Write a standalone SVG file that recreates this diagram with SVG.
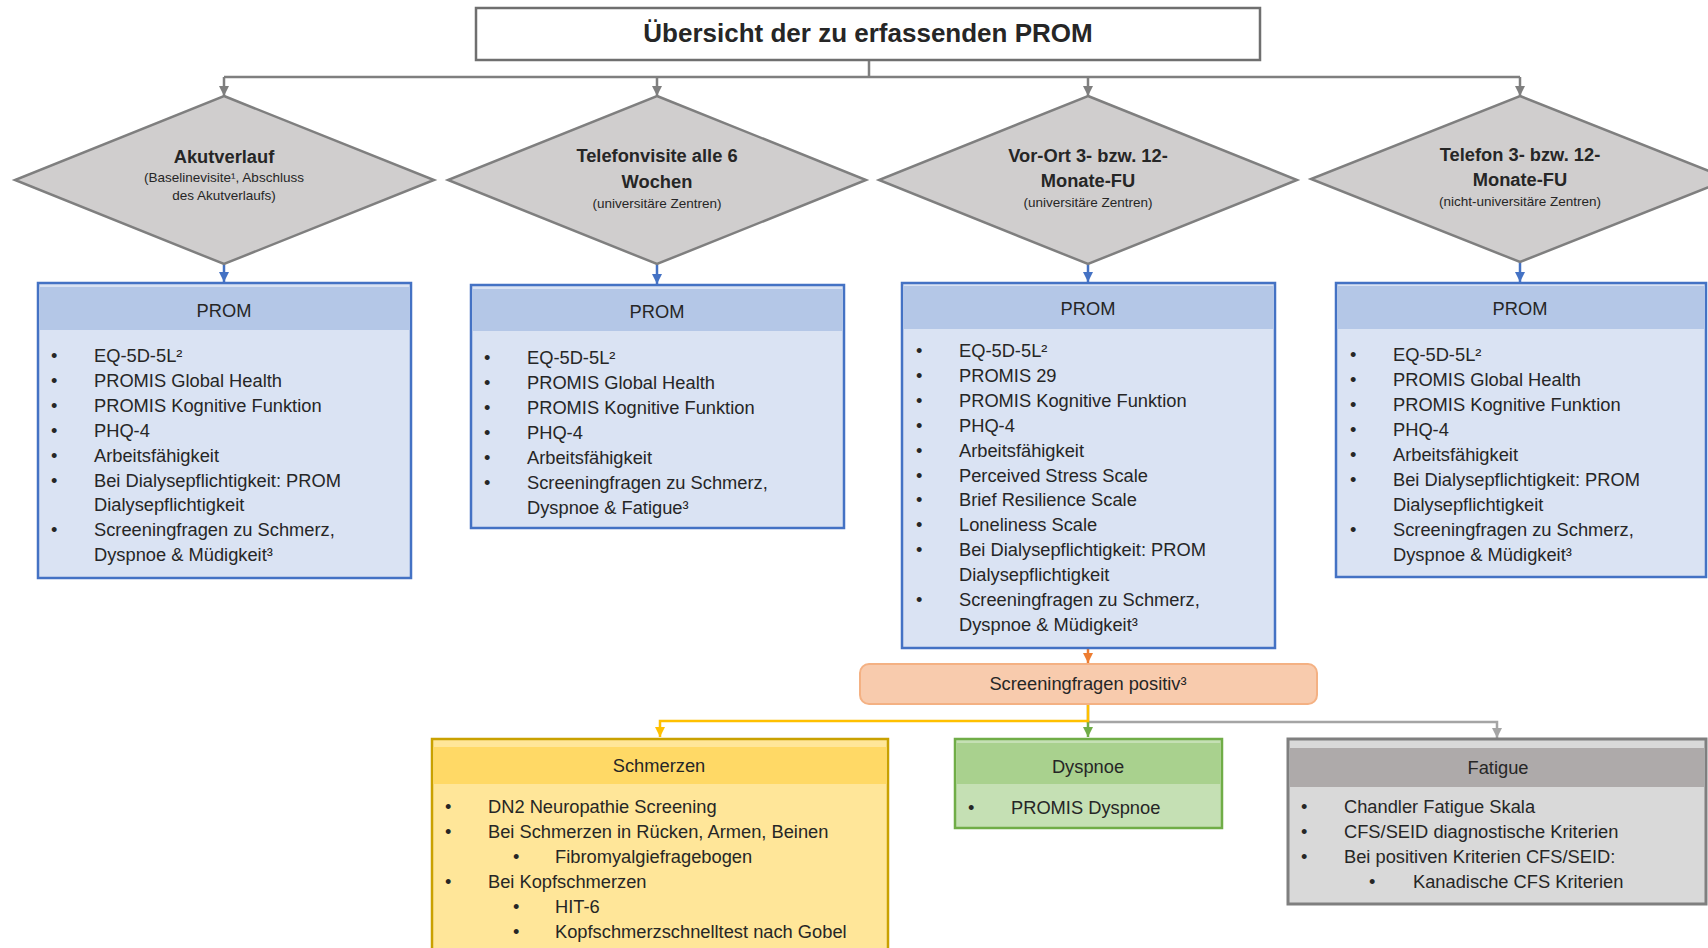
<svg xmlns="http://www.w3.org/2000/svg" width="1708" height="948" viewBox="0 0 1708 948">
<style>
text{font-family:"Liberation Sans",Arial,sans-serif;fill:#262626}
.t{font-size:18.3px}
.c{text-anchor:middle}
.b{font-weight:bold}
.s{font-size:13.5px}
.dia{fill:#d0cece;stroke:#7f7f7f;stroke-width:2.5}
.bx{fill:#dae3f3;stroke:#4472c4;stroke-width:2.5}
.bh{fill:#b4c7e7}
.conn{fill:none;stroke-width:2.5}
</style>
<defs>
<marker id="mg" markerUnits="userSpaceOnUse" markerWidth="11" markerHeight="10" refX="10" refY="5" orient="auto"><path d="M0,0 L10,5 L0,10 Z" fill="#7f7f7f"/></marker>
<marker id="mb" markerUnits="userSpaceOnUse" markerWidth="11" markerHeight="10" refX="10" refY="5" orient="auto"><path d="M0,0 L10,5 L0,10 Z" fill="#4472c4"/></marker>
<marker id="mo" markerUnits="userSpaceOnUse" markerWidth="11" markerHeight="10" refX="10" refY="5" orient="auto"><path d="M0,0 L10,5 L0,10 Z" fill="#ed7d31"/></marker>
<marker id="my" markerUnits="userSpaceOnUse" markerWidth="11" markerHeight="10" refX="10" refY="5" orient="auto"><path d="M0,0 L10,5 L0,10 Z" fill="#ffc000"/></marker>
<marker id="mgr" markerUnits="userSpaceOnUse" markerWidth="11" markerHeight="10" refX="10" refY="5" orient="auto"><path d="M0,0 L10,5 L0,10 Z" fill="#70ad47"/></marker>
<marker id="ml" markerUnits="userSpaceOnUse" markerWidth="11" markerHeight="10" refX="10" refY="5" orient="auto"><path d="M0,0 L10,5 L0,10 Z" fill="#a5a5a5"/></marker>
</defs>
<rect width="1708" height="948" fill="#ffffff"/>

<g id="connectors">
<path class="conn" stroke="#7f7f7f" d="M869,60 V77 M224,77 H1520"/>
<path class="conn" stroke="#7f7f7f" marker-end="url(#mg)" d="M224,77 V96"/>
<path class="conn" stroke="#7f7f7f" marker-end="url(#mg)" d="M657,77 V96"/>
<path class="conn" stroke="#7f7f7f" marker-end="url(#mg)" d="M1088,77 V96"/>
<path class="conn" stroke="#7f7f7f" marker-end="url(#mg)" d="M1520,77 V96"/>
<path class="conn" stroke="#4472c4" marker-end="url(#mb)" d="M224,264 V282"/>
<path class="conn" stroke="#4472c4" marker-end="url(#mb)" d="M657,264 V284"/>
<path class="conn" stroke="#4472c4" marker-end="url(#mb)" d="M1088,264 V282"/>
<path class="conn" stroke="#4472c4" marker-end="url(#mb)" d="M1520,262 V282"/>
<path class="conn" stroke="#ed7d31" marker-end="url(#mo)" d="M1088,648 V663"/>
<path class="conn" stroke="#a5a5a5" marker-end="url(#ml)" d="M1088,704 V722 H1497 V738"/>
<path class="conn" stroke="#70ad47" marker-end="url(#mgr)" d="M1088,721 V737"/>
<path class="conn" stroke="#ffc000" marker-end="url(#my)" d="M1088,704 V721 H660 V737"/>
</g>

<g id="title">
<rect x="476" y="8" width="784" height="52" fill="#ffffff" stroke="#6f6f6f" stroke-width="2.5"/>
<text class="c b" x="868" y="42" font-size="26">Übersicht der zu erfassenden PROM</text>
</g>

<g id="d1">
<polygon class="dia" points="224,96 434,180 224,264 15,180"/>
<text class="c b t" x="224" y="163">Akutverlauf</text>
<text class="c s" x="224" y="182">(Baselinevisite¹, Abschluss</text>
<text class="c s" x="224" y="200">des Akutverlaufs)</text>
</g>
<g id="d2">
<polygon class="dia" points="657,96 866,180 657,264 448,180"/>
<text class="c b t" x="657" y="162">Telefonvisite alle 6</text>
<text class="c b t" x="657" y="188">Wochen</text>
<text class="c s" x="657" y="208">(universitäre Zentren)</text>
</g>
<g id="d3">
<polygon class="dia" points="1088,96 1297,180 1088,264 879,180"/>
<text class="c b t" x="1088" y="162">Vor-Ort 3- bzw. 12-</text>
<text class="c b t" x="1088" y="187">Monate-FU</text>
<text class="c s" x="1088" y="207">(universitäre Zentren)</text>
</g>
<g id="d4">
<polygon class="dia" points="1520,96 1729,179 1520,262 1311,179"/>
<text class="c b t" x="1520" y="161">Telefon 3- bzw. 12-</text>
<text class="c b t" x="1520" y="186">Monate-FU</text>
<text class="c s" x="1520" y="206">(nicht-universitäre Zentren)</text>
</g>

<g id="p1">
<rect class="bx" x="38" y="283" width="373" height="295"/>
<rect class="bh" x="39.5" y="287" width="370" height="43"/>
<text class="c t" x="224" y="317">PROM</text>
<g class="t">
<text x="51" y="362">•</text><text x="94" y="362">EQ-5D-5L²</text>
<text x="51" y="387">•</text><text x="94" y="387">PROMIS Global Health</text>
<text x="51" y="412">•</text><text x="94" y="412">PROMIS Kognitive Funktion</text>
<text x="51" y="437">•</text><text x="94" y="437">PHQ-4</text>
<text x="51" y="462">•</text><text x="94" y="462">Arbeitsfähigkeit</text>
<text x="51" y="487">•</text><text x="94" y="487">Bei Dialysepflichtigkeit: PROM</text>
<text x="94" y="511">Dialysepflichtigkeit</text>
<text x="51" y="536">•</text><text x="94" y="536">Screeningfragen zu Schmerz,</text>
<text x="94" y="561">Dyspnoe &amp; Müdigkeit³</text>
</g>
</g>

<g id="p2">
<rect class="bx" x="471" y="285" width="373" height="243"/>
<rect class="bh" x="472.5" y="289" width="370" height="42"/>
<text class="c t" x="657" y="318">PROM</text>
<g class="t">
<text x="484" y="364">•</text><text x="527" y="364">EQ-5D-5L²</text>
<text x="484" y="389">•</text><text x="527" y="389">PROMIS Global Health</text>
<text x="484" y="414">•</text><text x="527" y="414">PROMIS Kognitive Funktion</text>
<text x="484" y="439">•</text><text x="527" y="439">PHQ-4</text>
<text x="484" y="464">•</text><text x="527" y="464">Arbeitsfähigkeit</text>
<text x="484" y="489">•</text><text x="527" y="489">Screeningfragen zu Schmerz,</text>
<text x="527" y="514">Dyspnoe &amp; Fatigue³</text>
</g>
</g>

<g id="p3">
<rect class="bx" x="902" y="283" width="373" height="365"/>
<rect class="bh" x="903.5" y="286" width="370" height="43"/>
<text class="c t" x="1088" y="315">PROM</text>
<g class="t">
<text x="916" y="357">•</text><text x="959" y="357">EQ-5D-5L²</text>
<text x="916" y="382">•</text><text x="959" y="382">PROMIS 29</text>
<text x="916" y="407">•</text><text x="959" y="407">PROMIS Kognitive Funktion</text>
<text x="916" y="432">•</text><text x="959" y="432">PHQ-4</text>
<text x="916" y="457">•</text><text x="959" y="457">Arbeitsfähigkeit</text>
<text x="916" y="482">•</text><text x="959" y="482">Perceived Stress Scale</text>
<text x="916" y="506">•</text><text x="959" y="506">Brief Resilience Scale</text>
<text x="916" y="531">•</text><text x="959" y="531">Loneliness Scale</text>
<text x="916" y="556">•</text><text x="959" y="556">Bei Dialysepflichtigkeit: PROM</text>
<text x="959" y="581">Dialysepflichtigkeit</text>
<text x="916" y="606">•</text><text x="959" y="606">Screeningfragen zu Schmerz,</text>
<text x="959" y="631">Dyspnoe &amp; Müdigkeit³</text>
</g>
</g>

<g id="p4">
<rect class="bx" x="1336" y="283" width="370" height="294"/>
<rect class="bh" x="1337.5" y="286" width="367" height="43"/>
<text class="c t" x="1520" y="315">PROM</text>
<g class="t">
<text x="1350" y="361">•</text><text x="1393" y="361">EQ-5D-5L²</text>
<text x="1350" y="386">•</text><text x="1393" y="386">PROMIS Global Health</text>
<text x="1350" y="411">•</text><text x="1393" y="411">PROMIS Kognitive Funktion</text>
<text x="1350" y="436">•</text><text x="1393" y="436">PHQ-4</text>
<text x="1350" y="461">•</text><text x="1393" y="461">Arbeitsfähigkeit</text>
<text x="1350" y="486">•</text><text x="1393" y="486">Bei Dialysepflichtigkeit: PROM</text>
<text x="1393" y="511">Dialysepflichtigkeit</text>
<text x="1350" y="536">•</text><text x="1393" y="536">Screeningfragen zu Schmerz,</text>
<text x="1393" y="561">Dyspnoe &amp; Müdigkeit³</text>
</g>
</g>

<g id="screen">
<rect x="860" y="664" width="457" height="40" rx="9" fill="#f8cbad" stroke="#f4b183" stroke-width="2"/>
<text class="c t" x="1088" y="690">Screeningfragen positiv³</text>
</g>

<g id="schmerzen">
<rect x="432" y="739" width="456" height="230" fill="#ffe699" stroke="#c9a100" stroke-width="2.5"/>
<rect x="433.5" y="747" width="453" height="37" fill="#ffd966"/>
<text class="c t" x="659" y="772">Schmerzen</text>
<g class="t">
<text x="445" y="813">•</text><text x="488" y="813">DN2 Neuropathie Screening</text>
<text x="445" y="838">•</text><text x="488" y="838">Bei Schmerzen in Rücken, Armen, Beinen</text>
<text x="513" y="863">•</text><text x="555" y="863">Fibromyalgiefragebogen</text>
<text x="445" y="888">•</text><text x="488" y="888">Bei Kopfschmerzen</text>
<text x="513" y="913">•</text><text x="555" y="913">HIT-6</text>
<text x="513" y="938">•</text><text x="555" y="938">Kopfschmerzschnelltest nach Gobel</text>
</g>
</g>

<g id="dyspnoe">
<rect x="955" y="739" width="267" height="89" fill="#c5e0b4" stroke="#70ad47" stroke-width="2.5"/>
<rect x="956.5" y="743" width="264" height="41" fill="#a9d18e"/>
<text class="c t" x="1088" y="773">Dyspnoe</text>
<text class="t" x="968" y="814">•</text><text class="t" x="1011" y="814">PROMIS Dyspnoe</text>
</g>

<g id="fatigue">
<rect x="1288" y="739" width="418" height="165" fill="#d9d9d9" stroke="#7f7f7f" stroke-width="3"/>
<rect x="1290" y="748" width="414" height="39" fill="#aeaaaa"/>
<text class="c t" x="1498" y="774">Fatigue</text>
<g class="t">
<text x="1301" y="813">•</text><text x="1344" y="813">Chandler Fatigue Skala</text>
<text x="1301" y="838">•</text><text x="1344" y="838">CFS/SEID diagnostische Kriterien</text>
<text x="1301" y="863">•</text><text x="1344" y="863">Bei positiven Kriterien CFS/SEID:</text>
<text x="1369" y="888">•</text><text x="1413" y="888">Kanadische CFS Kriterien</text>
</g>
</g>
</svg>
